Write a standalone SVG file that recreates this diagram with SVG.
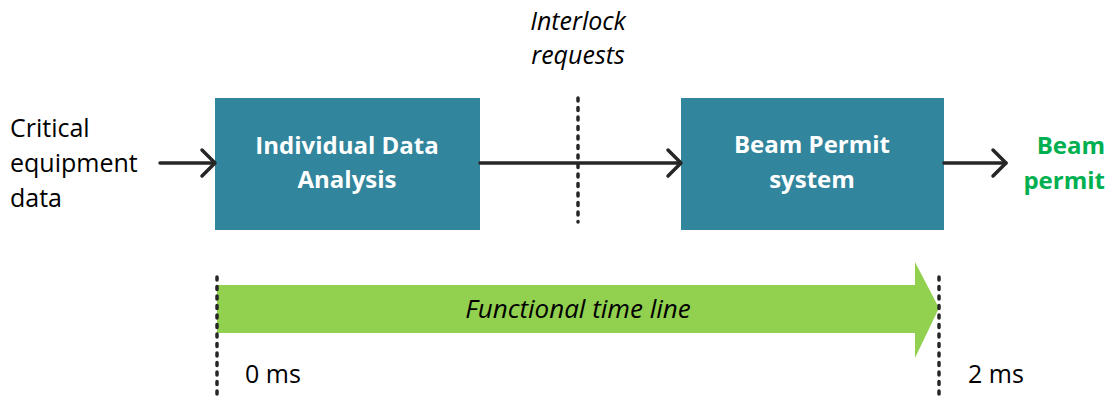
<svg xmlns="http://www.w3.org/2000/svg" width="1112" height="398" viewBox="0 0 1112 398">
<style>
.t{font-family:"Open Sans","Liberation Sans",sans-serif;font-size:25px;fill:#000}
.i{font-style:italic;font-size:26px}
.il{font-style:italic;font-size:25px}
.b{font-family:"Open Sans","Liberation Sans",sans-serif;font-size:24px;font-weight:bold;fill:#fff;text-anchor:middle}
.g{font-family:"Open Sans","Liberation Sans",sans-serif;font-size:24px;font-weight:bold;fill:#00B050;text-anchor:end}
.box{fill:#31859C}
.ln{stroke:#262626;stroke-width:3.5;fill:none;stroke-linecap:round;stroke-linejoin:round}
.dash{stroke:#262626;stroke-width:3.5;fill:none;stroke-linecap:round;stroke-dasharray:3 6.5}
</style>
<rect width="1112" height="398" fill="#fff"/>
<g id="input-label">
<text class="t" x="10" y="137">Critical</text>
<text class="t" x="10" y="172">equipment</text>
<text class="t" x="10" y="207">data</text>
</g>
<g id="ida">
<rect class="box" x="215" y="98" width="265" height="132"/>
<text class="b" x="347" y="154">Individual Data</text>
<text class="b" x="347" y="188">Analysis</text>
</g>
<g id="bps">
<rect class="box" x="681" y="98" width="263" height="132"/>
<text class="b" x="812" y="153">Beam Permit</text>
<text class="b" x="812" y="188">system</text>
</g>
<g id="interlock-label">
<text class="t il" x="578" y="30" text-anchor="middle">Interlock</text>
<text class="t il" x="578" y="64" text-anchor="middle">requests</text>
</g>
<g id="output-label">
<text class="g" x="1105" y="154">Beam</text>
<text class="g" x="1105" y="189">permit</text>
</g>
<g id="timeline">
<polygon points="217,285 915,285 915,262 939,308 915,358 915,333 217,333" fill="#92D050"/>
<text class="t i" x="578" y="318" text-anchor="middle">Functional time line</text>
<text class="t" x="245" y="383">0 ms</text>
<text class="t" x="968" y="383">2 ms</text>
</g>
<g id="connectors">
<line class="ln" x1="160" y1="163" x2="214" y2="163"/>
<polyline class="ln" points="202,150 215,163 202,176"/>
<line class="ln" x1="480" y1="163" x2="680" y2="163"/>
<polyline class="ln" points="668,150 681,163 668,176"/>
<line class="ln" x1="944" y1="163" x2="1006" y2="163"/>
<polyline class="ln" points="993,150 1006,163 993,176"/>
<line class="dash" x1="578" y1="98" x2="578" y2="222"/>
<line class="dash" x1="217" y1="277" x2="217" y2="398"/>
<line class="dash" x1="939" y1="277" x2="939" y2="398"/>
</g>
</svg>
